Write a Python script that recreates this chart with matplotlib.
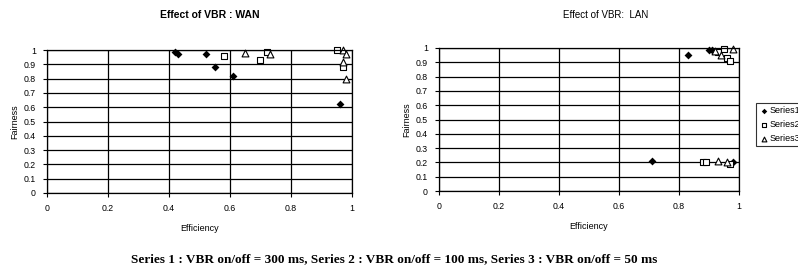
import matplotlib.pyplot as plt

# WAN data (efficiency, fairness)
wan_s1_x = [0.42, 0.43, 0.52, 0.55, 0.61, 0.96]
wan_s1_y = [0.99, 0.97, 0.97, 0.88, 0.82, 0.62]
wan_s2_x = [0.58, 0.70, 0.72, 0.95, 0.97]
wan_s2_y = [0.96, 0.93, 0.99, 1.00, 0.88]
wan_s3_x = [0.65, 0.73, 0.97, 0.98, 0.97, 0.98]
wan_s3_y = [0.98, 0.97, 1.00, 0.97, 0.92, 0.80]

# LAN data
lan_s1_x = [0.83, 0.90, 0.91, 0.71, 0.98]
lan_s1_y = [0.95, 0.985, 0.985, 0.21, 0.20]
lan_s2_x = [0.93, 0.95, 0.96, 0.97, 0.88, 0.89, 0.97]
lan_s2_y = [0.97, 0.99, 0.93, 0.91, 0.20, 0.205, 0.19]
lan_s3_x = [0.92, 0.94, 0.98, 0.93, 0.96]
lan_s3_y = [0.98, 0.95, 0.99, 0.21, 0.20]

ticks_x = [0, 0.2, 0.4, 0.6, 0.8, 1]
ticks_y = [0, 0.1, 0.2, 0.3, 0.4, 0.5, 0.6, 0.7, 0.8, 0.9, 1]
series_names = ['Series1', 'Series2', 'Series3']

plt.rcParams['font.family'] = ['Liberation Sans', 'DejaVu Sans']

fig = plt.figure(figsize=(7.98, 2.71), dpi=100)
ax1 = fig.add_axes([0.059, 0.288, 0.382, 0.527])
ax2 = fig.add_axes([0.550, 0.295, 0.376, 0.528])


def style(ax):
    ax.set_xlim(0, 1)
    ax.set_ylim(0, 1)
    ax.set_xticks(ticks_x)
    ax.set_xticklabels(['0', '0.2', '0.4', '0.6', '0.8', '1'])
    ax.set_yticks(ticks_y)
    ax.set_yticklabels(['0', '0.1', '0.2', '0.3', '0.4', '0.5', '0.6', '0.7', '0.8', '0.9', '1'])
    ax.grid(True, color='black', linewidth=0.9)
    ax.set_axisbelow(True)
    for sp in ax.spines.values():
        sp.set_linewidth(0.9)
    ax.tick_params(labelsize=6.3, length=3, width=0.8, direction='out', pad=5)
    ax.set_xlabel('Efficiency', fontsize=6.5, labelpad=8)
    ax.set_ylabel('Fairness', fontsize=6.5, labelpad=3)


def draw(ax, d):
    h = []
    h.append(ax.scatter(d[0], d[1], marker='D', s=16, c='black', linewidths=0, clip_on=False))
    h.append(ax.scatter(d[2], d[3], marker='s', s=24, facecolors='white',
                        edgecolors='black', linewidths=0.8, clip_on=False))
    h.append(ax.scatter(d[4], d[5], marker='^', s=24, facecolors='white',
                        edgecolors='black', linewidths=0.8, clip_on=False))
    return h


style(ax1)
style(ax2)
draw(ax1, [wan_s1_x, wan_s1_y, wan_s2_x, wan_s2_y, wan_s3_x, wan_s3_y])
handles = draw(ax2, [lan_s1_x, lan_s1_y, lan_s2_x, lan_s2_y, lan_s3_x, lan_s3_y])

fig.text(210 / 798, 1 - 15 / 271, 'Effect of VBR : WAN', ha='center', va='center',
         fontsize=7.5, fontweight='bold')
fig.text(606 / 798, 1 - 15 / 271, 'Effect of VBR:  LAN', ha='center', va='center',
         fontsize=7)

# legend box runs past the right edge, as in the original
leg = fig.legend(handles, series_names, loc='upper left',
                 bbox_to_anchor=(756 / 798, 1 - 103 / 271), fontsize=6.5,
                 frameon=True, fancybox=False, edgecolor='black', borderaxespad=0,
                 handletextpad=0.1, handlelength=1.0, borderpad=0.35, labelspacing=0.55,
                 markerscale=0.7)
leg.get_frame().set_linewidth(0.8)

fig.text(394 / 798, 1 - 259 / 271,
         'Series 1 : VBR on/off = 300 ms, Series 2 : VBR on/off = 100 ms, Series 3 : VBR on/off = 50 ms',
         ha='center', va='center', fontsize=9.5, family=['Liberation Serif'], fontweight='bold')

fig.savefig('out.png', dpi=100)
